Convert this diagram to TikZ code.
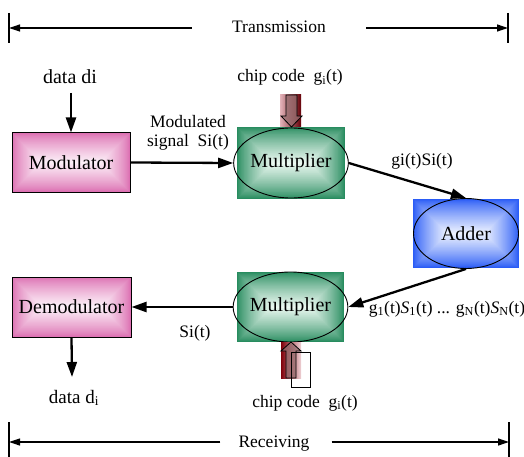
\documentclass[tikz,border=0pt]{standalone}
\usepackage{fontspec}
\setmainfont{Liberation Serif}
\usetikzlibrary{arrows.meta,shapes.geometric}

\definecolor{pinkedge}{RGB}{220,112,178}
\definecolor{pinkmid}{RGB}{252,240,248}
\definecolor{greenedge}{RGB}{40,140,95}
\definecolor{greenmid}{RGB}{238,250,243}
\definecolor{blueedge}{RGB}{42,92,246}
\definecolor{bluemid}{RGB}{238,243,255}
\definecolor{chipdark}{RGB}{128,0,10}
\definecolor{chiplight}{RGB}{228,180,186}
\definecolor{chiparrow}{RGB}{150,110,112}

% framed gradient: nested rectangles from the edge colour to the centre colour
\newcommand\pillowfill[6]{%
  \foreach \i in {0,...,#5}{%
    \pgfmathtruncatemacro\mix{100*(\i/#5)^0.8}%
    \fill[#4!\mix!#3] ([shift={(\i pt,\i pt)}]#1) rectangle ([shift={(-\i pt,-\i pt)}]#2);
  }%
  #6}

\tikzset{
  nodetext/.style={font=\rmfamily\fontsize{20}{24}\selectfont},
  lbl/.style={font=\rmfamily\fontsize{17.5}{20}\selectfont, inner sep=0pt},
  oval/.style={ellipse, draw=black, line width=0.9pt, inner sep=0pt, nodetext},
  flow/.style={line width=2.3pt, -{Triangle[length=15pt,width=10pt]}},
  dim/.style={line width=1.2pt, -{Triangle[length=11pt,width=7pt]}},
  tick/.style={line width=1.2pt},
  chiparr/.style={draw=black, line width=0.8pt, fill=chiparrow, fill opacity=0.75},
  plainbox/.style={rectangle, inner sep=0pt},
}

\begin{document}
\begin{tikzpicture}[x=1pt,y=-1pt]
\useasboundingbox (0,0) rectangle (524,457);

% ---- transmission span ----
\draw[tick] (9,13) -- (9,43);
\draw[tick] (508,13) -- (508,43);
\coordinate (tl) at (9,28);
\coordinate (tr) at (508,28);
\node[lbl, anchor=base, inner xsep=40pt] (trans) at (279,33) {Transmission};
\draw[dim] (trans.west |- tl) -- (tl);
\draw[dim] (trans.east |- tr) -- (tr);

% ---- transmitter ----
\node[lbl, font=\rmfamily\fontsize{20}{24}\selectfont, anchor=base] (din) at (70,84) {data di};
\coordinate (dinend) at (71,93);

\node[plainbox, minimum width=118pt, minimum height=59pt] (modbox) at (71,162.5) {};
\pillowfill{modbox.south west}{modbox.north east}{pinkedge}{pinkmid}{29}{}
\node[plainbox, draw=black, line width=1pt, minimum width=118pt, minimum height=59pt, nodetext]
   (mod) at (modbox.center) {Modulator};
\draw[flow] (dinend) -- (mod.north);

\node[plainbox, minimum width=108pt, minimum height=72pt] (mulTbox) at (291,163) {};
\pillowfill{mulTbox.south west}{mulTbox.north east}{greenedge}{greenmid}{36}{}
\node[oval, minimum width=107pt, minimum height=70pt] (mulT) at (mulTbox.center) {Multiplier};
\draw[flow] (mod.east) -- (mulT.west);
\node[lbl, align=center, anchor=base] (modsig) at (188,147) {Modulated\\signal\hspace{0.25em} Si(t)};

% chip code feeding the upper multiplier
\node[lbl, anchor=base] (chipT) at (290,82) {chip code\hspace{0.25em} g\textsubscript{i}(t)};
\shade[left color=chiplight, middle color=chipdark, right color=chipdark!80!black]
   (280,95) rectangle (301,127);
\draw[chiparr] (286,95) -- (297,95) -- (297,116) -- (302,116) -- (291.5,127)
   -- (281,116) -- (286,116) -- cycle;

% ---- adder ----
\node[plainbox, minimum width=106pt, minimum height=69pt] (addbox) at (466,233.5) {};
\pillowfill{addbox.south west}{addbox.north east}{blueedge}{bluemid}{34}{}
\node[oval, minimum width=105pt, minimum height=70pt] (adder) at (addbox.center) {Adder};
\draw[flow] (mulT.east) -- (adder.north);
\node[lbl, anchor=base] (gs) at (422,165) {gi(t)Si(t)};

% ---- receiver ----
\node[plainbox, minimum width=107pt, minimum height=70pt] (mulBbox) at (290.5,307) {};
\pillowfill{mulBbox.south west}{mulBbox.north east}{greenedge}{greenmid}{35}{}
\node[oval, minimum width=107pt, minimum height=70pt] (mulB) at (mulBbox.center) {Multiplier};
\draw[flow] (adder.south) -- (mulB.east);
\node[lbl, anchor=base] (sum) at (447,313)
  {g\textsubscript{1}(t)\textit{S}\textsubscript{1}(t) ... g\textsubscript{N}(t)\textit{S}\textsubscript{N}(t)};

% chip code feeding the lower multiplier
\shade[left color=chipdark, middle color=chipdark!85!white, right color=chiplight!60!white]
   (281,342) rectangle (301,378);
\draw[chiparr] (286,378) -- (296,378) -- (296,351) -- (301,351) -- (291,342)
   -- (281,351) -- (286,351) -- cycle;
\draw[line width=0.9pt] (291,352) rectangle (310,387);
\node[lbl, anchor=base] (chipB) at (305,407) {chip code\hspace{0.25em} g\textsubscript{i}(t)};

\node[plainbox, minimum width=119pt, minimum height=60pt] (demodbox) at (71.5,307) {};
\pillowfill{demodbox.south west}{demodbox.north east}{pinkedge}{pinkmid}{29}{}
\node[plainbox, draw=black, line width=1pt, minimum width=119pt, minimum height=60pt, nodetext]
   (demod) at (demodbox.center) {Demodulator};
\draw[flow] (mulB.west) -- (demod.east);
\node[lbl, anchor=base] (sit) at (195,337) {Si(t)};

\coordinate (doutend) at (72,377);
\draw[flow] (demod.south) -- (doutend);
\node[lbl, font=\rmfamily\fontsize{19}{22}\selectfont, anchor=base] (dout) at (74,403) {data d\textsubscript{i}};

% ---- receiving span ----
\draw[tick] (9,422) -- (9,457);
\draw[tick] (509,422) -- (509,457);
\coordinate (bl) at (9,442);
\coordinate (br) at (509,442);
\node[lbl, anchor=base, inner xsep=0pt] (recv) at (274,447) {Receiving};
\draw[dim] ([xshift=-18pt]recv.west |- bl) -- (bl);
\draw[dim] ([xshift=22pt]recv.east |- br) -- (br);
\end{tikzpicture}
\end{document}
